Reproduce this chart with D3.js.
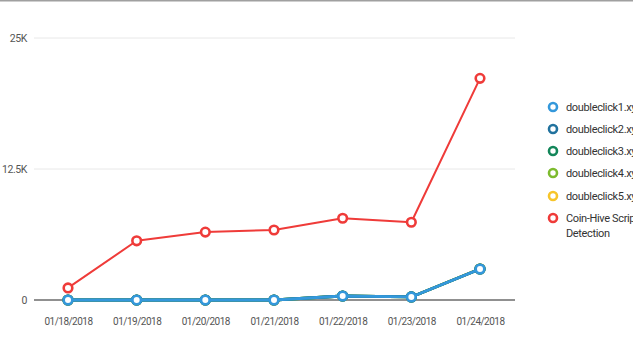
<!DOCTYPE html>
<html>
<head>
<meta charset="utf-8">
<script src="https://cdn.jsdelivr.net/npm/d3@7"></script>
<style>
  html, body { margin: 0; padding: 0; background: #fff; overflow: hidden; }
  svg { display: block; font-family: Roboto, "Liberation Sans", sans-serif; }
</style>
</head>
<body>
<svg id="chart" width="633" height="350"></svg>
<script>
// Dates on the x axis
const dates = ["01/18/2018", "01/19/2018", "01/20/2018", "01/21/2018", "01/22/2018", "01/23/2018", "01/24/2018"];

// Series values, one array per detection source
const doubleclick1 = [0, 0, 0, 0, 380, 290, 2960];
const doubleclick2 = [0, 0, 0, 0, 380, 290, 2960];
const doubleclick3 = [0, 0, 0, 0, 380, 290, 2960];
const doubleclick4 = [0, 0, 0, 0, 380, 290, 2960];
const doubleclick5 = [0, 0, 0, 0, 380, 290, 2980];
const coinHive = [1150, 5650, 6480, 6680, 7800, 7420, 21150];

// Y axis ticks and their labels
const yTicks = [0, 12500, 25000];
const yTickLabels = ["0", "12.5K", "25K"];

const seriesNames = ["doubleclick1.xyz", "doubleclick2.xyz", "doubleclick3.xyz", "doubleclick4.xyz", "doubleclick5.xyz", "Coin-Hive Script Detection"];
const seriesValues = [doubleclick1, doubleclick2, doubleclick3, doubleclick4, doubleclick5, coinHive];
const seriesColors = ["#3498db", "#21729e", "#13865a", "#7dbb2e", "#f7c52a", "#ef3b39"];

const svg = d3.select("#chart");

// thin rule along the top edge of the frame
svg.append("rect").attr("x", 0).attr("y", 0).attr("width", 633).attr("height", 1.5).attr("fill", "#a0a0a0");

const plotLeft = 34, plotRight = 515, plotTop = 38, plotBottom = 300;

const x = d3.scalePoint().domain(dates).range([68, 480]);
const y = d3.scaleLinear().domain([0, 25000]).range([plotBottom, plotTop]);

// horizontal grid lines
const grid = svg.append("g");
yTicks.forEach((t, i) => {
  grid.append("line")
    .attr("x1", plotLeft).attr("x2", plotRight)
    .attr("y1", y(t)).attr("y2", y(t))
    .attr("stroke", t === 0 ? "#6b6b6b" : "#e8e8e8")
    .attr("stroke-width", t === 0 ? 1.5 : 1);
  grid.append("text")
    .attr("x", 27).attr("y", y(t)).attr("dy", "0.35em")
    .attr("text-anchor", "end")
    .attr("font-size", 10.5).attr("letter-spacing", -0.4).attr("fill", "#555")
    .text(yTickLabels[i]);
});

// x axis labels
const xAxis = d3.axisBottom(x).tickSize(0).tickPadding(0);
const xg = svg.append("g").attr("transform", `translate(0,${plotBottom})`).call(xAxis);
xg.select(".domain").remove();
xg.selectAll("text")
  .attr("y", 22).attr("dy", "0.32em")
  .attr("font-size", 10).attr("letter-spacing", -0.5).attr("fill", "#555")
  .attr("font-family", "Roboto, 'Liberation Sans', sans-serif");

const line = d3.line().x((d, i) => x(dates[i])).y(d => y(d));

// draw in reverse so doubleclick1 sits over the identical doubleclick lines, Coin-Hive on top
const order = [4, 3, 2, 1, 0, 5];
order.forEach(k => {
  const g = svg.append("g");
  const isCoin = k === 5;
  g.append("path")
    .datum(seriesValues[k])
    .attr("d", line)
    .attr("fill", "none")
    .attr("stroke", seriesColors[k])
    .attr("stroke-width", isCoin ? 2 : 2.8)
    .attr("stroke-linejoin", "round");
  g.selectAll("circle")
    .data(seriesValues[k])
    .join("circle")
    .attr("cx", (d, i) => x(dates[i]))
    .attr("cy", d => y(d))
    .attr("r", 4.3)
    .attr("fill", "#fff")
    .attr("stroke", seriesColors[k])
    .attr("stroke-width", 2.6);
});

// legend
const legend = svg.append("g");
const legendY = [107, 129, 151, 173, 196, 218];
seriesNames.forEach((name, i) => {
  legend.append("circle")
    .attr("cx", 553).attr("cy", legendY[i])
    .attr("r", 4).attr("fill", "#fff")
    .attr("stroke", seriesColors[i]).attr("stroke-width", 2.6);
  const t = legend.append("text")
    .attr("x", 566).attr("y", legendY[i]).attr("dy", "0.35em")
    .attr("font-size", 11).attr("letter-spacing", -0.35).attr("fill", "#333");
  if (i === 5) {
    t.append("tspan").attr("x", 566).text("Coin-Hive Script");
    t.append("tspan").attr("x", 566).attr("dy", "1.35em").text("Detection");
  } else {
    t.text(name);
  }
});
</script>
</body>
</html>
